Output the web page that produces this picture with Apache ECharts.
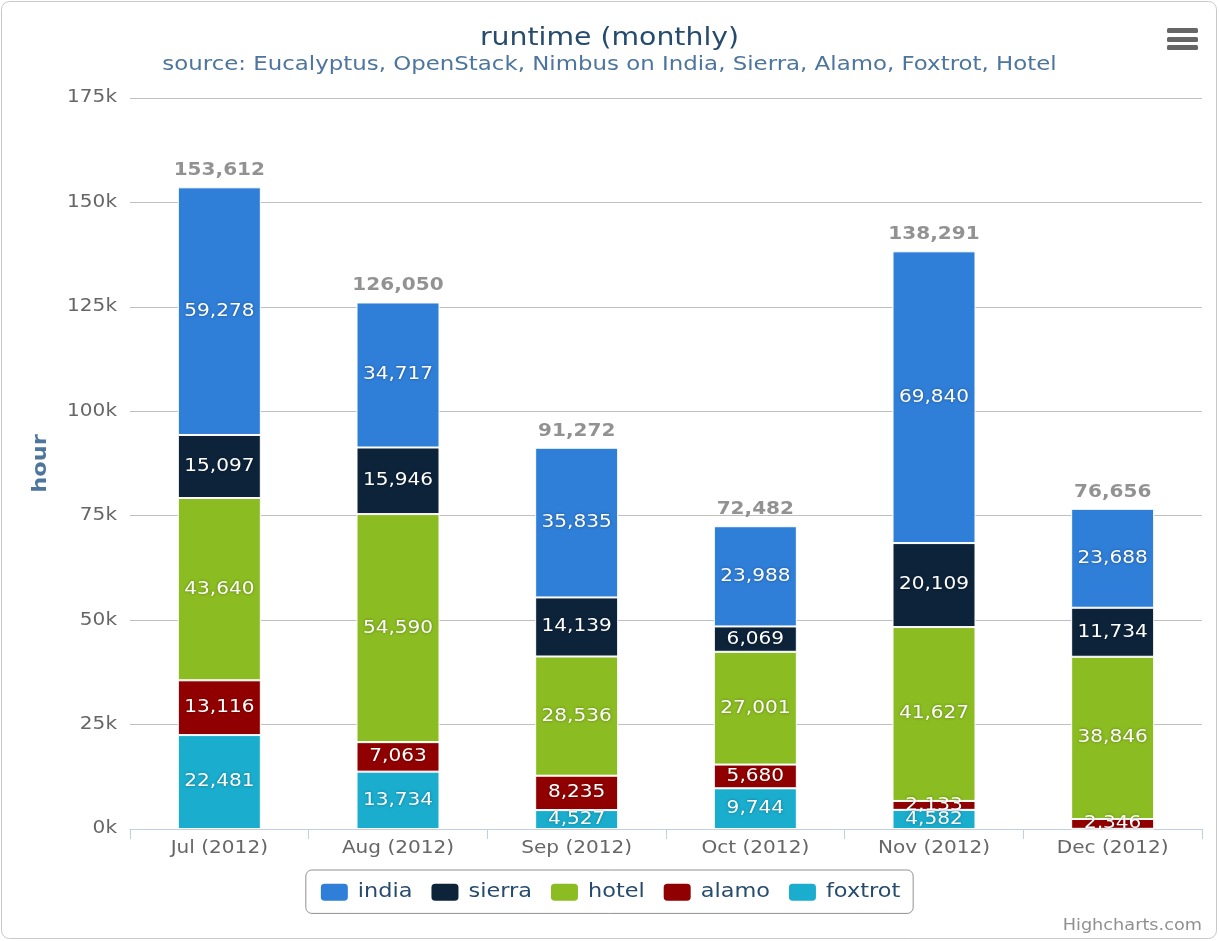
<!DOCTYPE html>
<html>
<head>
<meta charset="utf-8">
<script src="https://cdn.jsdelivr.net/npm/echarts@6/dist/echarts.min.js"></script>
<style>
html,body{margin:0;padding:0;background:#fff;}
#chart{width:1219px;height:941px;}
</style>
</head>
<body>
<div id="chart"></div>
<script>
const categories = ['Jul (2012)', 'Aug (2012)', 'Sep (2012)', 'Oct (2012)', 'Nov (2012)', 'Dec (2012)'];
const india   = [59278, 34717, 35835, 23988, 69840, 23688];
const sierra  = [15097, 15946, 14139, 6069, 20109, 11734];
const hotel   = [43640, 54590, 28536, 27001, 41627, 38846];
const alamo   = [13116, 7063, 8235, 5680, 2133, 2346];
const foxtrot = [22481, 13734, 4527, 9744, 4582, 42];
const yTicks = [0, 25000, 50000, 75000, 100000, 125000, 150000, 175000];

const totals = categories.map((c, i) => india[i] + sierra[i] + hotel[i] + alamo[i] + foxtrot[i]);
const FONT = 'DejaVu Sans';
const fmt = v => v.toLocaleString('en-US');

// The reference text is rendered horizontally widened; emulate it by stretching glyphs.
(function () {
  const S = 1.18;
  const proto = CanvasRenderingContext2D.prototype;
  const oFill = proto.fillText, oStroke = proto.strokeText, oMeasure = proto.measureText;
  proto.fillText = function (t, x, y, mw) {
    this.save(); this.translate(x, y); this.scale(S, 1);
    if (mw !== undefined) oFill.call(this, t, 0, 0, mw / S); else oFill.call(this, t, 0, 0);
    this.restore();
  };
  proto.strokeText = function (t, x, y, mw) {
    this.save(); this.translate(x, y); this.scale(S, 1);
    if (mw !== undefined) oStroke.call(this, t, 0, 0, mw / S); else oStroke.call(this, t, 0, 0);
    this.restore();
  };
  proto.measureText = function (t) {
    const m = oMeasure.call(this, t);
    return {
      width: m.width * S,
      actualBoundingBoxLeft: m.actualBoundingBoxLeft * S,
      actualBoundingBoxRight: m.actualBoundingBoxRight * S,
      actualBoundingBoxAscent: m.actualBoundingBoxAscent,
      actualBoundingBoxDescent: m.actualBoundingBoxDescent,
      fontBoundingBoxAscent: m.fontBoundingBoxAscent,
      fontBoundingBoxDescent: m.fontBoundingBoxDescent,
      emHeightAscent: m.emHeightAscent,
      emHeightDescent: m.emHeightDescent,
      alphabeticBaseline: m.alphabeticBaseline,
      hangingBaseline: m.hangingBaseline,
      ideographicBaseline: m.ideographicBaseline
    };
  };
})();

function stackSeries(name, data, color) {
  return {
    name: name, type: 'bar', stack: 'total', data: data, barWidth: 83,
    itemStyle: { color: color, borderColor: '#ffffff', borderWidth: 1 },
    label: {
      show: true, position: 'inside', color: '#ffffff', fontFamily: FONT, fontSize: 17,
      textShadowColor: 'rgba(0,0,0,0.35)', textShadowBlur: 3,
      formatter: p => p.value < 100 ? '' : fmt(p.value)
    },
    emphasis: { disabled: true }
  };
}

const chart = echarts.init(document.getElementById('chart'), null, { renderer: 'canvas' });
chart.setOption({
  animation: false,
  backgroundColor: '#ffffff',
  title: {
    text: 'runtime (monthly)',
    subtext: 'source: Eucalyptus, OpenStack, Nimbus on India, Sierra, Alamo, Foxtrot, Hotel',
    left: 'center', top: 20, itemGap: 0,
    textStyle: { fontFamily: FONT, fontSize: 24, fontWeight: 'normal', color: '#274b6d' },
    subtextStyle: { fontFamily: FONT, fontSize: 19.4, color: '#4d759e' }
  },
  grid: { left: 130, right: 17, top: 98, bottom: 112 },
  legend: {
    left: 'center', top: 870,
    data: ['india', 'sierra', 'hotel', 'alamo', 'foxtrot'],
    icon: 'roundRect', itemWidth: 29, itemHeight: 19, itemGap: 17,
    borderColor: '#909090', borderWidth: 1, borderRadius: 6,
    padding: [11, 13, 10, 13],
    textStyle: { fontFamily: FONT, fontSize: 19, color: '#274b6d', padding: [0, 0, 0, 4] }
  },
  xAxis: {
    type: 'category', data: categories,
    axisLine: { lineStyle: { color: '#C0D0E0', width: 1 } },
    axisTick: { show: true, alignWithLabel: false, length: 10, lineStyle: { color: '#C0D0E0' } },
    axisLabel: { fontFamily: FONT, fontSize: 17, color: '#666666', margin: 10 }
  },
  yAxis: {
    type: 'value', min: 0, max: 175000, interval: 25000,
    name: 'hour', nameLocation: 'middle', nameGap: 78,
    nameTextStyle: { fontFamily: FONT, fontSize: 19, fontWeight: 'bold', color: '#4d759e' },
    axisLine: { show: false }, axisTick: { show: false },
    splitLine: { lineStyle: { color: '#C0C0C0', width: 1 } },
    axisLabel: {
      fontFamily: FONT, fontSize: 17, color: '#666666', margin: 13,
      formatter: v => yTicks.includes(v) ? (v / 1000) + 'k' : ''
    }
  },
  series: [
    stackSeries('foxtrot', foxtrot, '#1AADCE'),
    stackSeries('alamo', alamo, '#910000'),
    stackSeries('hotel', hotel, '#8BBC21'),
    stackSeries('sierra', sierra, '#0D233A'),
    stackSeries('india', india, '#2F7ED8'),
    {
      name: 'total', type: 'scatter', data: totals, symbolSize: 1, silent: true,
      itemStyle: { color: 'rgba(0,0,0,0)' },
      label: {
        show: true, position: 'top', distance: 6, fontFamily: FONT, fontSize: 17,
        fontWeight: 'bold', color: '#777777', formatter: p => fmt(p.value)
      }
    }
  ],
  graphic: [
    { type: 'rect', shape: { x: 1.5, y: 1.5, width: 1215, height: 937, r: 8 }, style: { fill: 'none', stroke: '#c8c8c8', lineWidth: 1 }, silent: true },
    { type: 'rect', shape: { x: 1167, y: 28, width: 31, height: 5, r: 1.5 }, style: { fill: '#666666' } },
    { type: 'rect', shape: { x: 1167, y: 37, width: 31, height: 5, r: 1.5 }, style: { fill: '#666666' } },
    { type: 'rect', shape: { x: 1167, y: 45, width: 31, height: 5, r: 1.5 }, style: { fill: '#666666' } },
    { type: 'text', right: 17, bottom: 6, style: { text: 'Highcharts.com', fontFamily: FONT, fontSize: 15, fill: '#909090' } }
  ]
});
</script>
</body>
</html>
